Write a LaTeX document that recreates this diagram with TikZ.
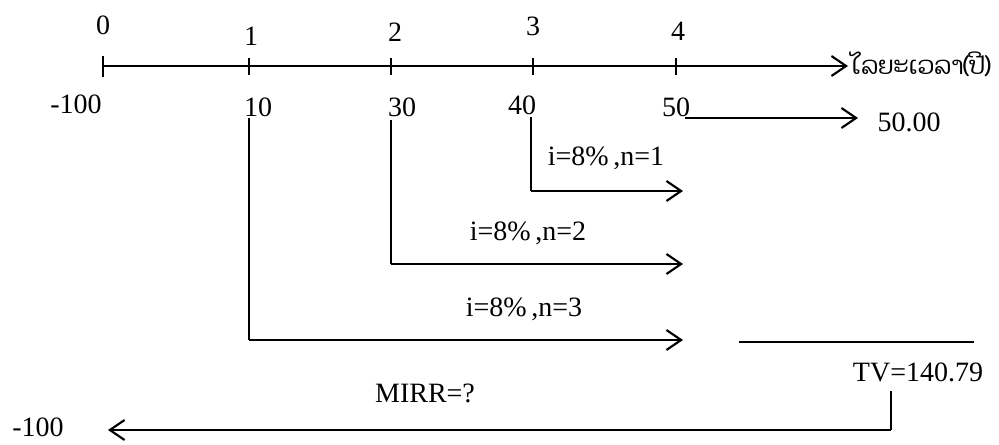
\documentclass[tikz,border=0pt]{standalone}
\usepackage{fontspec}
\setmainfont{Liberation Serif}
\newfontfamily\laofont[Script=Lao]{Dhyana}
\usetikzlibrary{arrows.meta}
\begin{document}
\begin{tikzpicture}[x=0.75pt,y=-0.75pt,
  lbl/.style={inner sep=0pt, font=\fontsize{21}{25}\selectfont},
  laolbl/.style={inner sep=0pt, font=\fontsize{18.5}{22}\selectfont\laofont},
  thinline/.style={line width=1pt},
  arr/.style={line width=1.6pt, -{Straight Barb[length=11pt,width=15pt,line width=1.6pt]}},
]
\useasboundingbox (0,0) rectangle (999,445);

% time axis
\coordinate (t0) at (103,66);
\coordinate (tend) at (848,66);
\coordinate (k1) at (249,66);
\coordinate (k2) at (391,66);
\coordinate (k3) at (533,66);
\coordinate (k4) at (676,66);
\draw[arr] (t0) -- (tend);
\draw[thinline] (t0) ++(0,-10) -- ++(0,21);
\foreach \k in {k1,k2,k3,k4} \draw[thinline] (\k) ++(0,-8) -- ++(0,17);
\node[laolbl, anchor=west] (axlabel) at (851,64) {ໄລຍະເວລາ(ປີ)};

% period labels
\node[lbl] (p0) at (103,25) {0};
\node[lbl] (p1) at (251,36) {1};
\node[lbl] (p2) at (395,32) {2};
\node[lbl] (p3) at (533,26) {3};
\node[lbl] (p4) at (678,31) {4};

% cash flows
\node[lbl] (cf0) at (76,104) {-100};
\node[lbl] (cf1) at (258,107) {10};
\node[lbl] (cf2) at (402,107) {30};
\node[lbl] (cf3) at (522,105) {40};
\node[lbl] (cf4) at (676,107) {50};

% year 4 cash flow
\coordinate (f4a) at (685,118);
\coordinate (f4b) at (858,118);
\draw[arr] (f4a) -- (f4b);
\node[lbl] (v4) at (909,122) {50.00};

% year 3 compounding
\coordinate (a3) at (531,117);
\coordinate (b3) at (531,191);
\coordinate (c3) at (683,191);
\draw[thinline] (a3) -- (b3);
\draw[arr] (b3) -- (c3);
\node[lbl] (r3) at (606,158) {i=8\%\,,n=1};

% year 2 compounding
\coordinate (a2) at (391,120);
\coordinate (b2) at (391,264);
\coordinate (c2) at (683,264);
\draw[thinline] (a2) -- (b2);
\draw[arr] (b2) -- (c2);
\node[lbl] (r2) at (528,233) {i=8\%\,,n=2};

% year 1 compounding
\coordinate (a1) at (249,118);
\coordinate (b1) at (249,340);
\coordinate (c1) at (683,340);
\draw[thinline] (a1) -- (b1);
\draw[arr] (b1) -- (c1);
\node[lbl] (r1) at (524,309) {i=8\%\,,n=3};

% terminal value
\coordinate (s1) at (739,342);
\coordinate (s2) at (974,342);
\draw[thinline] (s1) -- (s2);
\node[lbl] (tv) at (918,372) {TV=140.79};

% discount back
\coordinate (d1) at (891,391);
\coordinate (d2) at (891,430);
\coordinate (d3) at (108,430);
\draw[thinline] (d1) -- (d2);
\draw[arr] (d2) -- (d3);
\node[lbl] (mirr) at (425,393) {MIRR=?};
\node[lbl] (pv) at (38,427) {-100};
\end{tikzpicture}
\end{document}
